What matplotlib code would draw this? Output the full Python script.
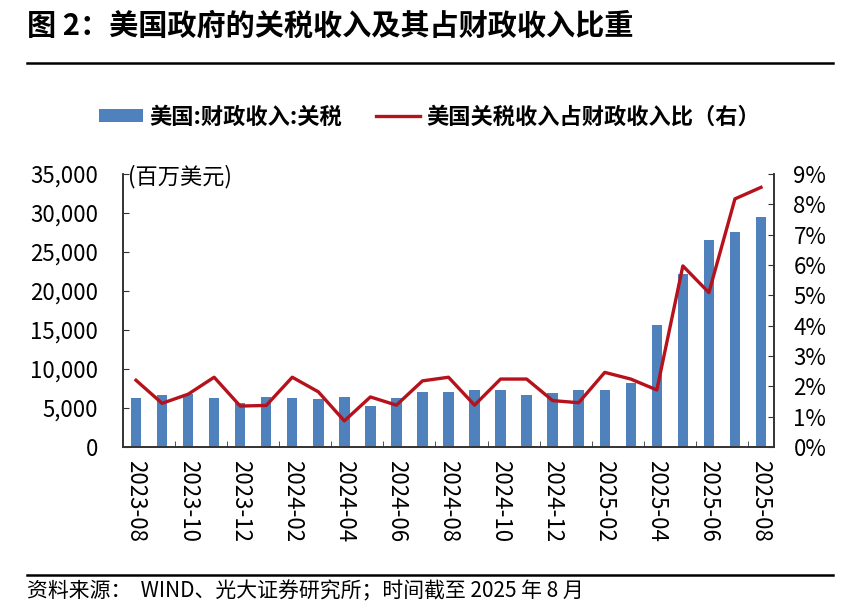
import matplotlib
matplotlib.use('Agg')
import matplotlib.pyplot as plt
from matplotlib.lines import Line2D
from matplotlib.ticker import FuncFormatter, FixedLocator
import numpy as np

plt.rcParams['font.family'] = ['Noto Sans CJK SC', 'DejaVu Sans']

# Data
months = ['2023-08', '2023-09', '2023-10', '2023-11', '2023-12', '2024-01', '2024-02',
          '2024-03', '2024-04', '2024-05', '2024-06', '2024-07', '2024-08', '2024-09',
          '2024-10', '2024-11', '2024-12', '2025-01', '2025-02', '2025-03', '2025-04',
          '2025-05', '2025-06', '2025-07', '2025-08']
tariff = [6300, 6700, 6800, 6300, 5700, 6400, 6300, 6100, 6400, 5300, 6300, 7100, 7000,
          7300, 7300, 6700, 6900, 7300, 7300, 8200, 15600, 22200, 26600, 27600, 29500]
share = [2.20, 1.44, 1.74, 2.30, 1.35, 1.37, 2.30, 1.82, 0.86, 1.65, 1.38, 2.18, 2.30,
         1.38, 2.24, 2.24, 1.53, 1.46, 2.46, 2.24, 1.88, 5.97, 5.09, 8.18, 8.56]

bar_label = '美国:财政收入:关税'
line_label = '美国关税收入占财政收入比（右）'
title = '图 2：美国政府的关税收入及其占财政收入比重'
source = '资料来源：  WIND、光大证券研究所；时间截至 2025 年 8 月'

W, H = 854, 612
fig = plt.figure(figsize=(W / 100, H / 100), dpi=100)
ax = fig.add_axes([123 / W, 1 - 447 / H, (774 - 123) / W, (447 - 174) / H])
ax2 = ax.twinx()

x = np.arange(len(months))
bars = ax.bar(x, tariff, width=0.4, color='#4F81BD', zorder=2)
line, = ax2.plot(x, np.array(share) / 100, color='#B5121B', linewidth=2.4, zorder=3)

ax.set_xlim(-0.5, len(months) - 0.5)
ax.set_ylim(0, 35000)
ax2.set_ylim(0, 0.09)
ax.set_yticks(np.arange(0, 35001, 5000))
ax2.set_yticks(np.arange(0, 0.0901, 0.01))
ax.yaxis.set_major_formatter(FuncFormatter(lambda v, p: f'{v:,.0f}'))
ax2.yaxis.set_major_formatter(FuncFormatter(lambda v, p: f'{v * 100:.0f}%'))

# x labels every two months, ticks on the boundaries between pairs
ax.set_xticks(x[::2])
ax.set_xticklabels(months[::2], rotation=270, fontsize=16)
ax.xaxis.set_minor_locator(FixedLocator(np.arange(1.5, len(months) - 1, 2)))
ax.tick_params(axis='x', which='major', length=0, pad=9)
ax.tick_params(axis='x', which='minor', direction='in', length=4, color='#333333')
ax.tick_params(axis='y', direction='in', length=4, labelsize=16, pad=18, color='#333333')
ax2.tick_params(axis='y', direction='in', length=4, labelsize=16, pad=14, color='#333333')

for a in (ax, ax2):
    a.spines['top'].set_visible(False)
    for s in ('left', 'right', 'bottom'):
        a.spines[s].set_color('#333333')
        a.spines[s].set_linewidth(1.2)

ax.text(0.008, 0.99, '(百万美元)', transform=ax.transAxes, fontsize=16,
        ha='left', va='center')

fig.legend([bars, line], [bar_label, line_label], loc='center',
           bbox_to_anchor=(0.503, 1 - 117 / H), ncol=2, frameon=False,
           prop={'size': 16, 'weight': 'bold'}, handlelength=2.0,
           handleheight=0.5, handletextpad=0.3, columnspacing=1.5)

fig.text(27 / W, 1 - 26 / H, title, fontsize=21, fontweight='bold',
         ha='left', va='center')
fig.add_artist(Line2D([27 / W, 833 / W], [1 - 63 / H] * 2, color='black', linewidth=1.8))
fig.add_artist(Line2D([27 / W, 833 / W], [1 - 575 / H] * 2, color='black', linewidth=1.8))
fig.text(27 / W, 1 - 591 / H, source, fontsize=15, ha='left', va='center')

fig.savefig('out.png', dpi=100)
